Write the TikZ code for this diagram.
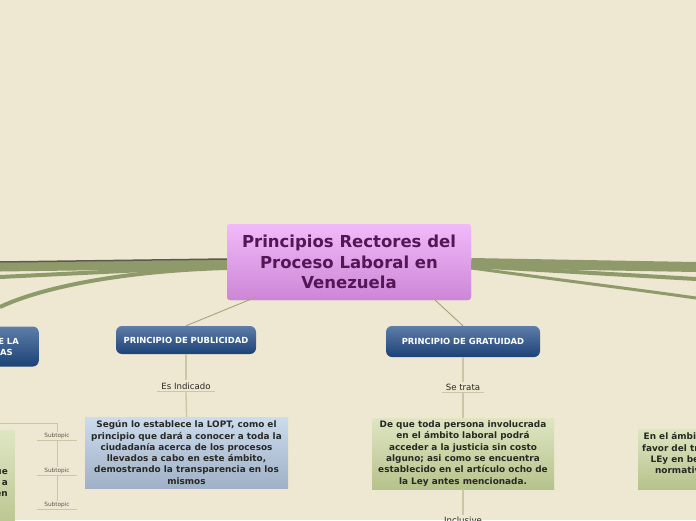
\documentclass[tikz,border=0pt]{standalone}
\usepackage{fontspec}
\setmainfont{DejaVu Sans}
\usetikzlibrary{positioning}

\definecolor{fondo}{RGB}{238,232,210}
\definecolor{rama}{RGB}{142,154,106}
\definecolor{ramaosc}{RGB}{88,90,76}
\definecolor{linea}{RGB}{200,200,164}
\definecolor{lineaprin}{RGB}{160,166,120}
\definecolor{morado}{RGB}{84,22,84}
\definecolor{texto}{RGB}{40,40,36}

\tikzset{
  centro/.style={rectangle, rounded corners=3pt, top color={rgb,255:red,242;green,186;blue,250},
    bottom color={rgb,255:red,204;green,134;blue,214}, text=morado, align=center,
    minimum width=244pt, minimum height=76pt, inner sep=0pt,
    font=\fontsize{16.5}{20.5}\selectfont\bfseries},
  principio/.style={rectangle, rounded corners=6pt, top color={rgb,255:red,94;green,125;blue,168},
    bottom color={rgb,255:red,28;green,66;blue,118}, text=white, align=center, inner sep=0pt,
    font=\fontsize{8.4}{11}\selectfont\bfseries},
  cajaazul/.style={rectangle, top color={rgb,255:red,204;green,220;blue,238},
    bottom color={rgb,255:red,160;green,176;blue,198}, text=texto, align=center, inner sep=0pt,
    font=\fontsize{8.9}{11.3}\selectfont\bfseries},
  cajaverde/.style={rectangle, top color={rgb,255:red,222;green,230;blue,194},
    bottom color={rgb,255:red,182;green,194;blue,140}, text=texto, align=center, inner sep=0pt,
    font=\fontsize{8.9}{11.3}\selectfont\bfseries},
  etiqueta/.style={text=texto, inner xsep=4pt, inner ysep=2pt, font=\fontsize{8.6}{10}\selectfont},
  subtema/.style={text={rgb,255:red,90;green,90;blue,80}, inner xsep=4pt, inner ysep=1.5pt,
    font=\fontsize{5.8}{6}\selectfont},
  fina/.style={draw=linea, line width=1.3pt},
  ramaprin/.style={draw=lineaprin, line width=0.9pt}
}

\begin{document}
\begin{tikzpicture}[x=1pt, y=-1pt]
  % fondo
  \fill[fondo] (0,0) rectangle (696,520);
  \useasboundingbox (0,0) rectangle (696,520);

  % extremos libres de las ramas gruesas
  \coordinate (izqA) at (0,262);
  \coordinate (izqB) at (0,267);
  \coordinate (izqC) at (0,277);
  \coordinate (izqD) at (0,307);
  \coordinate (derA) at (696,267);
  \coordinate (derB) at (696,279);
  \coordinate (derC) at (696,298);
  \coordinate (esquina) at (0,423);

  % nodo central
  \node[centro] (raiz) at (349,262) {Principios Rectores del\\Proceso Laboral en\\Venezuela};

  % ramas gruesas
  \draw[rama, line width=4pt] ([yshift=-6pt]raiz.west) .. controls (120,271) and (40,288) .. (izqD);
  \draw[rama, line width=4pt] ([yshift=-4pt]raiz.west) -- (izqC);
  \draw[rama, line width=9pt] ([yshift=-2pt]raiz.west) -- (izqB);
  \draw[ramaosc, line width=1.5pt] ([yshift=3pt]raiz.west) -- (izqA);
  \draw[rama, line width=10pt] ([yshift=-1pt]raiz.east) -- (derA);
  \draw[rama, line width=4pt] ([yshift=-4pt]raiz.east) -- (derB);
  \draw[rama, line width=3pt] ([yshift=-6pt]raiz.east) .. controls (560,280) and (640,290) .. (derC);
  \node[centro] at (raiz) {Principios Rectores del\\Proceso Laboral en\\Venezuela};

  % principios
  \node[principio, minimum width=140pt, minimum height=28pt] (publicidad) at (186,340) {PRINCIPIO DE PUBLICIDAD};
  \node[principio, minimum width=154pt, minimum height=31pt] (gratuidad) at (463,341.5) {PRINCIPIO DE GRATUIDAD};
  \node[principio, anchor=east, minimum height=40pt, inner xsep=20pt] (primacia) at (39,346.5)
    {PRINCIPIO DE LA PRIMACÍA DE LA\\REALIDAD SOBRE LAS FORMAS};

  \draw[ramaprin] ([xshift=29pt,yshift=3pt]raiz.south west) -- (publicidad.north);
  \draw[ramaprin] ([xshift=-36pt]raiz.south east) -- (gratuidad.north);

  % publicidad
  \node[etiqueta] (esind) at (186,386) {Es Indicado};
  \draw[fina] (esind.south west) -- (esind.south east);
  \node[cajaazul, minimum width=203pt, minimum height=71pt] (cajapub) at (186.5,452.5)
    {Según lo establece la LOPT, como el\\principio que dará a conocer a toda la\\ciudadanía acerca de los procesos\\llevados a cabo en este ámbito,\\demostrando la transparencia en los\\mismos};
  \draw[fina] (publicidad.south) -- (esind.north);
  \draw[fina] (esind.south) -- (cajapub.north);

  % gratuidad
  \node[etiqueta] (setrata) at (463,387) {Se trata};
  \draw[fina] (setrata.south west) -- (setrata.south east);
  \node[cajaverde, minimum width=182pt, minimum height=71pt] (cajagra) at (463,453.5)
    {De que toda persona involucrada\\en el ámbito laboral podrá\\acceder a la justicia sin costo\\alguno; asi como se encuentra\\establecido en el artículo ocho de\\la Ley antes mencionada.};
  \draw[fina] (gratuidad.south) -- (setrata.north);
  \draw[fina] (setrata.south) -- (cajagra.north);
  \node[etiqueta, anchor=north] (inclusive) at (463,514.5) {Inclusive};
  \draw[fina] (cajagra.south) -- (inclusive.north);

  % caja derecha
  \node[cajaverde, anchor=west, minimum height=60pt, inner xsep=4pt] (cajader) at (638,459)
    {En el ámbito laboral, se aplica a\\favor del trabajador la norma de\\LEy en beneficio de éste, y la\\normativa más favorable al\\la materia.};

  % rama izquierda con subtemas
  \node[cajaverde, anchor=east, text width=176pt, minimum height=106pt, align=right, inner xsep=7pt] (cajaizq) at (15,483)
    {que\\a\hspace*{3pt}\\en};
  \node[subtema] (sub1) at (57,436) {Subtopic};
  \node[subtema] (sub2) at (57,471) {Subtopic};
  \node[subtema] (sub3) at (57,505) {Subtopic};
  \foreach \s in {sub1,sub2,sub3}
    \draw[fina, line width=1pt] ([xshift=-3pt]\s.south west) -- ([xshift=3pt]\s.south east);
  \draw[fina, line width=1pt] (esquina) -| (sub1.north);
  \draw[fina, line width=1pt] (sub1.south) -- (sub2.north);
  \draw[fina, line width=1pt] (sub2.south) -- (sub3.north);
\end{tikzpicture}
\end{document}
